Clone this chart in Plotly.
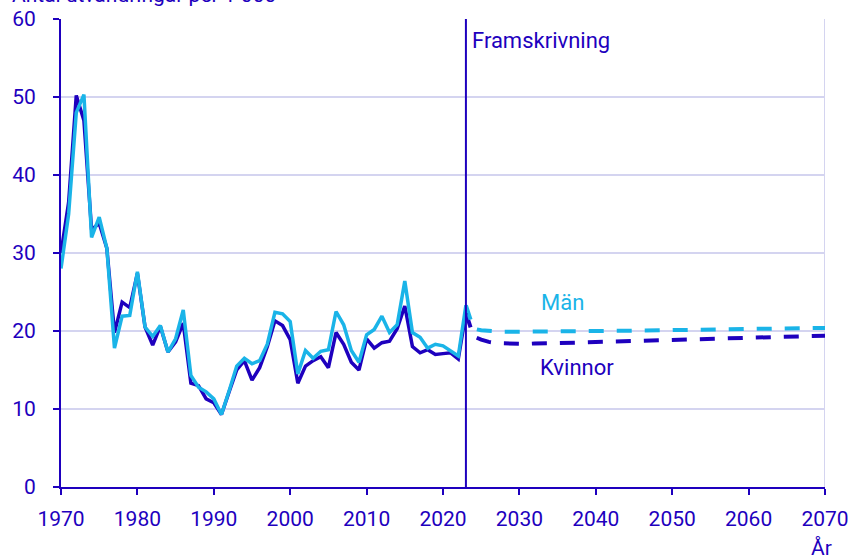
import plotly.graph_objects as go

# Observed emigration rates per 1 000, 1970-2023
years_hist = list(range(1970, 2024))
kvinnor_hist = [
    30.0, 36.5, 50.2, 47.0, 33.0, 33.8, 30.6, 19.8, 23.7, 23.0,
    27.4, 20.5, 18.2, 20.6, 17.3, 18.6, 21.0, 13.3, 13.0, 11.3,
    10.8, 9.3, 12.2, 15.0, 16.2, 13.7, 15.3, 18.0, 21.3, 20.7,
    18.9, 13.3, 15.5, 16.2, 16.7, 15.3, 19.8, 18.3, 16.0, 15.0,
    19.0, 17.8, 18.5, 18.7, 20.3, 23.2, 18.0, 17.2, 17.6, 17.0,
    17.1, 17.2, 16.4, 22.3,
]
man_hist = [
    28.0, 35.0, 48.0, 50.3, 32.0, 34.6, 30.6, 17.8, 21.9, 22.0,
    27.6, 20.5, 19.3, 20.7, 17.3, 19.0, 22.7, 14.3, 12.8, 12.2,
    11.3, 9.3, 12.3, 15.5, 16.5, 15.8, 16.2, 18.3, 22.4, 22.2,
    21.2, 14.5, 17.5, 16.5, 17.4, 17.6, 22.5, 20.8, 17.5, 16.0,
    19.5, 20.2, 21.9, 19.8, 20.8, 26.4, 19.8, 19.2, 17.8, 18.3,
    18.1, 17.4, 16.8, 23.3,
]

# Projection 2023-2070 (starts from the last observed year)
years_proj = list(range(2023, 2071))
kvinnor_proj = [
    22.3, 19.3, 18.9, 18.6, 18.45, 18.4, 18.35, 18.35, 18.35, 18.4,
    18.4, 18.42, 18.45, 18.48, 18.5, 18.52, 18.55, 18.6, 18.62, 18.65,
    18.68, 18.7, 18.73, 18.75, 18.78, 18.8, 18.82, 18.85, 18.88, 18.9,
    18.93, 18.96, 19.0, 19.03, 19.06, 19.09, 19.12, 19.15, 19.18, 19.21,
    19.24, 19.27, 19.3, 19.32, 19.34, 19.36, 19.38, 19.4,
]
man_proj = [
    23.3, 20.3, 20.1, 20.0, 19.95, 19.9, 19.9, 19.9, 19.9, 19.9,
    19.9, 19.9, 19.92, 19.93, 19.95, 19.97, 19.98, 20.0, 20.0, 20.01,
    20.02, 20.03, 20.04, 20.05, 20.06, 20.07, 20.08, 20.1, 20.11, 20.12,
    20.14, 20.15, 20.17, 20.18, 20.2, 20.21, 20.22, 20.24, 20.25, 20.27,
    20.29, 20.31, 20.33, 20.35, 20.36, 20.37, 20.39, 20.4,
]

x_ticks = list(range(1970, 2071, 10))
y_ticks = list(range(0, 61, 10))
proj_start = 2023

DARK = "#1E00BE"
LIGHT = "#1AB4E8"
GRID = "#D4D4F0"
FONT = "Roboto"
TICK_SIZE = 21
LABEL_SIZE = 22

fig = go.Figure()
fig.add_trace(go.Scatter(x=years_proj, y=kvinnor_proj, mode="lines",
                         line=dict(color=DARK, width=4, dash="15px,13px"),
                         showlegend=False, hoverinfo="skip"))
fig.add_trace(go.Scatter(x=years_proj, y=man_proj, mode="lines",
                         line=dict(color=LIGHT, width=4, dash="15px,13px"),
                         showlegend=False, hoverinfo="skip"))
fig.add_trace(go.Scatter(x=years_hist, y=kvinnor_hist, mode="lines",
                         line=dict(color=DARK, width=3.5),
                         showlegend=False))
fig.add_trace(go.Scatter(x=years_hist, y=man_hist, mode="lines",
                         line=dict(color=LIGHT, width=3.5),
                         showlegend=False))

# right border gridline and projection marker
fig.add_shape(type="line", xref="x", yref="y", x0=2070, x1=2070, y0=0, y1=60,
              line=dict(color=GRID, width=2), layer="below")
fig.add_shape(type="line", xref="x", yref="y", x0=proj_start, x1=proj_start,
              y0=0, y1=60, line=dict(color=DARK, width=2))

fig.add_annotation(x=proj_start, y=57.3, xref="x", yref="y", text="Framskrivning",
                   showarrow=False, xanchor="left", xshift=4,
                   font=dict(family=FONT, size=LABEL_SIZE, color=DARK))
fig.add_annotation(x=2035.7, y=23.7, xref="x", yref="y", text="Män",
                   showarrow=False, font=dict(family=FONT, size=LABEL_SIZE, color=LIGHT))
fig.add_annotation(x=2037.5, y=15.3, xref="x", yref="y", text="Kvinnor",
                   showarrow=False, font=dict(family=FONT, size=LABEL_SIZE, color=DARK))
fig.add_annotation(x=-0.067, y=1 + 24 / 468, xref="paper", yref="paper",
                   text="Antal utvandringar per 1 000", showarrow=False,
                   xanchor="left", yanchor="middle",
                   font=dict(family=FONT, size=TICK_SIZE, color=DARK))
fig.add_annotation(x=2069.6, y=-61 / 468, xref="x", yref="paper", text="År",
                   showarrow=False, xanchor="center", yanchor="middle",
                   font=dict(family=FONT, size=TICK_SIZE, color=DARK))

fig.update_layout(
    width=850, height=557,
    margin=dict(l=61, r=25, t=19, b=70, autoexpand=False),
    plot_bgcolor="white", paper_bgcolor="white",
    font=dict(family=FONT, size=TICK_SIZE, color=DARK),
)
fig.update_xaxes(range=[1970, 2070], tickvals=x_ticks, showgrid=False,
                 showline=True, linecolor=DARK, linewidth=2,
                 ticks="outside", ticklen=6, tickwidth=2, tickcolor=DARK,
                 ticklabelstandoff=6, zeroline=False, fixedrange=True)
fig.update_yaxes(range=[0, 60], tickvals=y_ticks, showgrid=True,
                 gridcolor=GRID, gridwidth=2,
                 showline=True, linecolor=DARK, linewidth=2,
                 ticks="outside", ticklen=6, tickwidth=2, tickcolor=DARK,
                 ticklabelstandoff=13, zeroline=False, fixedrange=True)

fig.write_html("out.html")
